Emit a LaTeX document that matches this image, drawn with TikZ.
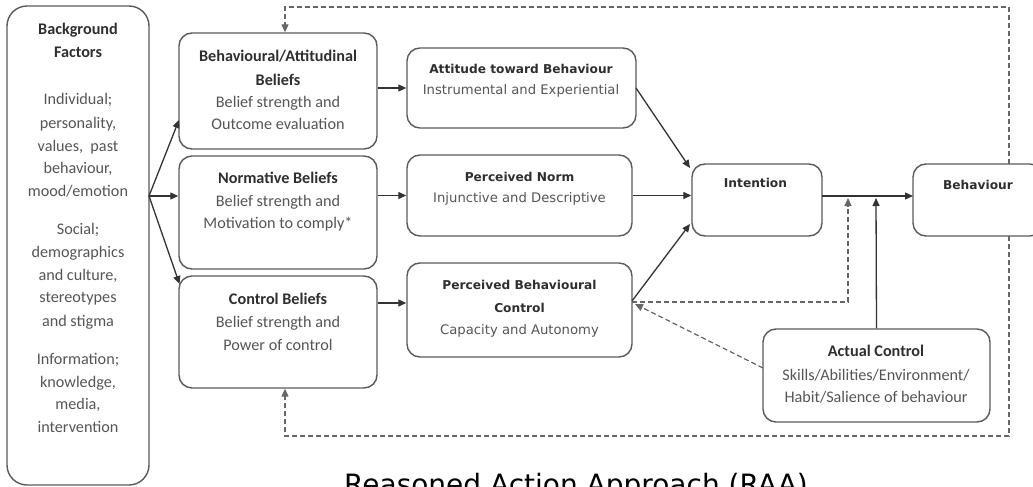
\documentclass[tikz,border=0pt]{standalone}
\usepackage{fontspec}
\setmainfont{Carlito}
\newfontfamily\dvfont{DejaVu Sans}
\usetikzlibrary{arrows.meta,calc}
\definecolor{edge}{HTML}{5A5A5A}
\definecolor{wire}{HTML}{333333}
\definecolor{dash}{HTML}{666666}
\definecolor{inkdark}{HTML}{2E2E2E}
\definecolor{inksoft}{HTML}{555555}
\begin{document}
\begin{tikzpicture}[x=1pt,y=-1pt,
  box/.style={draw=edge, line width=1.4pt, rounded corners=13pt, inner sep=0pt},
  cbold/.style={anchor=base, inner sep=0pt, text=inkdark, font=\fontsize{16.2}{20}\selectfont\bfseries},
  creg/.style={anchor=base, inner sep=0pt, text=inksoft, font=\fontsize{16.2}{20}\selectfont},
  dbold/.style={anchor=base, inner sep=0pt, text=inkdark, font=\dvfont\fontsize{12.2}{16}\selectfont\bfseries},
  dreg/.style={anchor=base, inner sep=0pt, text=inksoft, font=\dvfont\fontsize{13.2}{16}\selectfont},
  arr/.style={draw=wire, line width=1.3pt, -{Triangle[length=8pt,width=7pt]}},
  darr/.style={draw=dash, line width=1.3pt, dash pattern=on 5pt off 3pt, -{Triangle[length=8pt,width=7pt]}},
  dline/.style={draw=dash, line width=1.3pt, dash pattern=on 5pt off 3pt},
]
\useasboundingbox (0,0) rectangle (1033,487);
\clip (0,0) rectangle (1033,487);

% ---- boxes ----
\node[box, rounded corners=20pt, minimum width=142pt, minimum height=479pt] (bg) at (78,245.5) {};
\node[box, minimum width=198pt, minimum height=116pt] (bab) at (278,91) {};
\node[box, minimum width=198pt, minimum height=113pt] (nb) at (278,212.5) {};
\node[box, minimum width=198pt, minimum height=112pt] (cb) at (278,332) {};
\node[box, minimum width=229pt, minimum height=80pt] (att) at (521.5,88) {};
\node[box, minimum width=225pt, minimum height=81pt] (pn) at (519.5,195.5) {};
\node[box, minimum width=225pt, minimum height=94pt] (pbc) at (519.5,310) {};
\node[box, minimum width=130pt, minimum height=72pt] (int) at (757,200) {};
\node[box, minimum width=130pt, minimum height=72pt] (beh) at (978,200) {};
\node[box, minimum width=227pt, minimum height=93pt] (ac) at (876.5,375.5) {};

% ---- background factors ----
\node[cbold] (bg1) at (78,35) {Background};
\node[cbold] (bg2) at (78,58) {Factors};
\node[creg] (bg3) at (78,104) {Individual;};
\node[creg] (bg4) at (78,128) {personality,};
\node[creg] (bg5) at (78,151) {values,\ \ past};
\node[creg] (bg6) at (78,173) {behaviour,};
\node[creg] (bg7) at (78,196) {mood/emotion};
\node[creg] (bg8) at (78,234) {Social;};
\node[creg] (bg9) at (78,257) {demographics};
\node[creg] (bg10) at (78,280) {and culture,};
\node[creg] (bg11) at (78,302) {stereotypes};
\node[creg] (bg12) at (78,326) {and stigma};
\node[creg] (bg13) at (78,364) {Information;};
\node[creg] (bg14) at (78,387) {knowledge,};
\node[creg] (bg15) at (78,409) {media,};
\node[creg] (bg16) at (78,432) {intervention};

% ---- belief boxes ----
\node[cbold] (bab1) at (278,62) {Behavioural/Attitudinal};
\node[cbold] (bab2) at (278,85) {Beliefs};
\node[creg] (bab3) at (278,107) {Belief strength and};
\node[creg] (bab4) at (278,129) {Outcome evaluation};
\node[cbold] (nb1) at (278,183) {Normative Beliefs};
\node[creg] (nb2) at (278,206) {Belief strength and};
\node[creg] (nb3) at (278,228) {Motivation to comply*};
\node[cbold] (cb1) at (278,304) {Control Beliefs};
\node[creg] (cb2) at (278,327) {Belief strength and};
\node[creg] (cb3) at (278,350) {Power of control};

% ---- determinants ----
\node[dbold] (att1) at (521,74) {Attitude toward Behaviour};
\node[dreg] (att2) at (521,95) {Instrumental and Experiential};
\node[dbold] (pn1) at (519.5,181) {Perceived Norm};
\node[dreg] (pn2) at (519.5,202) {Injunctive and Descriptive};
\node[dbold] (pbc1) at (519.5,289) {Perceived Behavioural};
\node[dbold] (pbc2) at (519.5,312) {Control};
\node[dreg] (pbc3) at (519.5,334) {Capacity and Autonomy};
\node[dbold] (int1) at (755.5,187) {Intention};
\node[dbold] (beh1) at (978,189) {Behaviour};
\node[cbold] (ac1) at (876,356) {Actual Control};
\node[creg] (ac2) at (876,380) {Skills/Abilities/Environment/};
\node[creg] (ac3) at (876,402) {Habit/Salience of behaviour};

% ---- title ----
\node[anchor=base, inner sep=0pt, text=black, font=\dvfont\fontsize{28}{32}\selectfont] (title) at (576,494) {Reasoned Action Approach (RAA)};

% ---- connector points ----
\coordinate (fan) at (149,196);
\coordinate (babin) at (179,120);
\coordinate (cbin) at (179.5,284);
\coordinate (attout) at (636,88);
\coordinate (intin1) at (690,168);
\coordinate (pbcout) at (632,301);
\coordinate (intin3) at (690,224);
\coordinate (link) at (822,196);
\coordinate (behin) at (913,196);
\coordinate (pbcdash) at (632,302);
\coordinate (dturn) at (848,302);
\coordinate (dtop) at (848,198);
\coordinate (acup) at (876,198);
\coordinate (acw) at (763,368);
\coordinate (pbcfb) at (635,304);
\coordinate (fbtop) at (1009,164);
\coordinate (fbbot) at (1009,236);
\coordinate (topright) at (1009,7);
\coordinate (topleft) at (285,7);
\coordinate (botright) at (1009,436);
\coordinate (botleft) at (285,436);

% ---- solid connectors ----
\draw[arr] (fan) -- (babin);
\draw[arr] (fan) -- (nb.west |- fan);
\draw[arr] (fan) -- (cbin);
\draw[arr] (bab.east |- attout) -- (att.west);
\draw[arr] (nb.east |- pn.west) -- (pn.west);
\draw[arr] (cb.east |- 0,303) -- (pbc.west |- 0,303);
\draw[arr] (attout) -- (intin1);
\draw[arr] (pn.east) -- (int.west |- pn.east);
\draw[arr] (pbcout) -- (intin3);
\draw[arr] (link) -- (behin);
\draw[arr] (ac.north) -- (acup);

% ---- dashed connectors ----
\draw[darr] (pbcdash) -- (dturn) -- (dtop);
\draw[darr] (acw) -- (pbcfb);
\draw[darr] (fbtop) -- (topright) -- (topleft) -- (bab.north -| topleft);
\draw[darr] (fbbot) -- (botright) -- (botleft) -- (cb.south -| botleft);
\end{tikzpicture}
\end{document}
